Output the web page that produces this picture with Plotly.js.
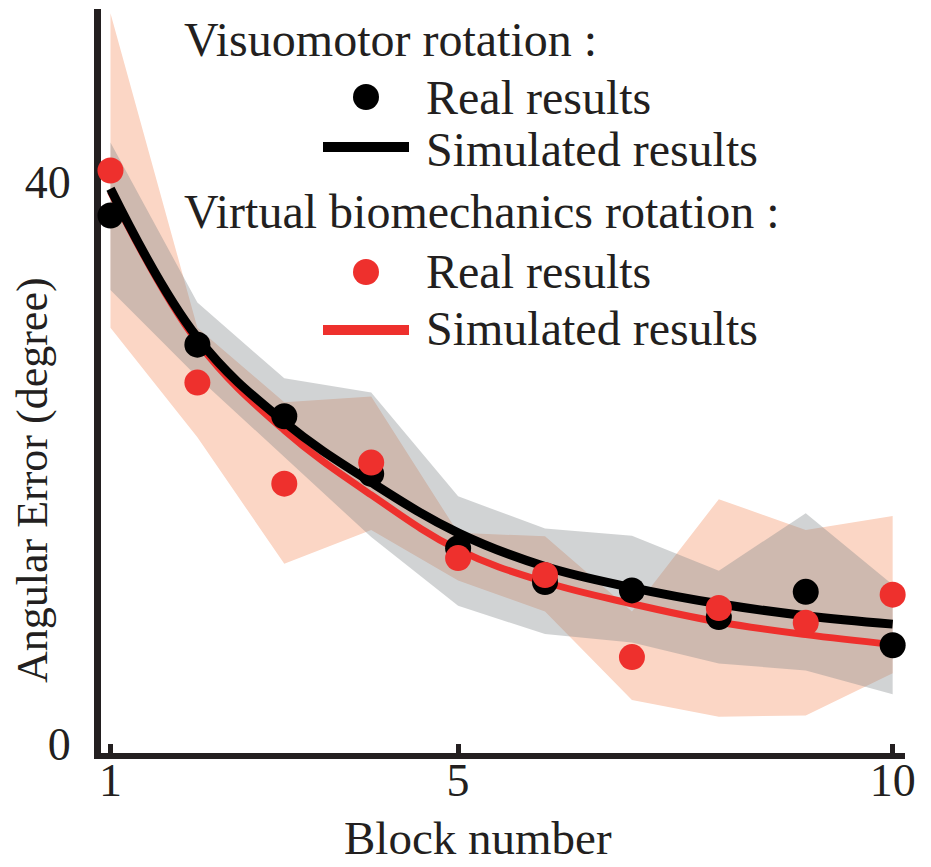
<!DOCTYPE html>
<html>
<head>
<meta charset="utf-8">
<script src="https://cdn.plot.ly/plotly-3.0.1.min.js"></script>
<style>
  html, body { margin: 0; padding: 0; background: #fff; }
  #chart { width: 931px; height: 867px; }
</style>
</head>
<body>
<div id="chart"></div>
<script>
// block numbers on the x axis
const blocks = [1, 2, 3, 4, 5, 6, 7, 8, 9, 10];

// visuomotor rotation (black / grey)
const visReal = [37.6, 28.4, 23.3, 19.2, 13.9, 11.5, 10.9, 9.0, 10.8, 7.0];
const visSim = [39.5, 28.9, 22.9, 18.6, 15.0, 12.6, 11.1, 9.95, 9.1, 8.5];
const visUpper = [42.8, 31.4, 26.0, 25.0, 17.6, 15.3, 14.8, 12.3, 16.4, 11.3];
const visLower = [32.3, 26.1, 20.4, 14.7, 9.8, 7.8, 7.2, 5.7, 5.2, 3.5];

// virtual biomechanics rotation (red / salmon)
const bioReal = [40.8, 25.7, 18.5, 20.0, 13.2, 12.0, 6.15, 9.65, 8.6, 10.6];
const bioSim = [39.3, 28.6, 22.3, 17.7, 13.8, 11.5, 9.95, 8.65, 7.75, 7.05];
const bioUpper = [52.0, 29.6, 24.3, 24.7, 15.0, 14.75, 9.4, 17.4, 15.2, 16.2];
const bioLower = [29.6, 21.8, 12.8, 15.2, 11.6, 9.4, 3.1, 1.9, 2.0, 5.0];

const xTicks = [1, 5, 10];
const yTicks = [0, 40];

const INK = '#231F20';
const RED = '#EE302D';
const FONT = 'Liberation Serif, Times New Roman, serif';

// page geometry, used to place the hand-made legend
const W = 931, H = 867, M = {l: 101, r: 26, t: 9, b: 114};
const pw = W - M.l - M.r, ph = H - M.t - M.b;
const px = (X) => (X - M.l) / pw;
const py = (Y) => (H - M.b - Y) / ph;

// closed polygon: upper edge left->right, lower edge right->left
function band(upper, lower) {
    return {
        x: blocks.concat(blocks.slice().reverse()),
        y: upper.concat(lower.slice().reverse())
    };
}

const bioBand = band(bioUpper, bioLower);
const visBand = band(visUpper, visLower);

const traces = [
    {
        x: bioBand.x, y: bioBand.y, type: 'scatter', mode: 'lines',
        fill: 'toself', fillcolor: 'rgb(251,214,197)',
        line: {width: 0, color: 'rgba(0,0,0,0)'}, hoverinfo: 'skip'
    },
    {
        x: visBand.x, y: visBand.y, type: 'scatter', mode: 'lines',
        fill: 'toself', fillcolor: 'rgba(127,133,136,0.36)',
        line: {width: 0, color: 'rgba(0,0,0,0)'}, hoverinfo: 'skip'
    },
    {
        x: blocks, y: bioSim, type: 'scatter', mode: 'lines',
        line: {color: RED, width: 7, shape: 'spline', smoothing: 1.1}
    },
    {
        x: blocks, y: visSim, type: 'scatter', mode: 'lines',
        line: {color: '#000', width: 9, shape: 'spline', smoothing: 1.1}
    },
    {
        x: blocks, y: visReal, type: 'scatter', mode: 'markers',
        marker: {color: '#000', size: 26}, cliponaxis: false
    },
    {
        x: blocks, y: bioReal, type: 'scatter', mode: 'markers',
        marker: {color: RED, size: 26}, cliponaxis: false
    }
];

// legend drawn by hand, like the original figure
function label(text, X, Y, anchor, size, yanchor) {
    return {
        text: text, xref: 'paper', yref: 'paper', x: px(X), y: py(Y),
        xanchor: anchor || 'left', yanchor: yanchor || 'middle', showarrow: false,
        font: {family: FONT, size: size || 48, color: INK}
    };
}

const annotations = [
    label('Visuomotor rotation :', 182, 40),
    label('Real results', 424, 97),
    label('Simulated results', 424, 149),
    label('Virtual biomechanics rotation :', 182, 211),
    label('Real results', 424, 271),
    label('Simulated results', 424, 329),
    label('Block number', 478, 866, 'center', 47, 'bottom'),
    {
        text: 'Angular Error (degree)', xref: 'paper', yref: 'paper',
        x: px(32), y: py(480), xanchor: 'center', yanchor: 'middle',
        textangle: -90, showarrow: false,
        font: {family: FONT, size: 44, color: INK}
    }
];

function dot(X, Y, color) {
    return {
        type: 'circle', xref: 'paper', yref: 'paper',
        xsizemode: 'pixel', ysizemode: 'pixel',
        xanchor: px(X), yanchor: py(Y), x0: -13, x1: 13, y0: -13, y1: 13,
        fillcolor: color, line: {width: 0}
    };
}
function dash(Y, color) {
    return {
        type: 'line', xref: 'paper', yref: 'paper',
        x0: px(323), x1: px(409), y0: py(Y), y1: py(Y),
        line: {color: color, width: 10}
    };
}

const shapes = [
    dot(366, 97, '#000'),
    dash(147, '#000'),
    dot(366, 272, RED),
    dash(330, RED)
];

const layout = {
    width: W, height: H,
    margin: M,
    paper_bgcolor: '#fff', plot_bgcolor: '#fff',
    showlegend: false,
    font: {family: FONT, size: 46, color: INK},
    xaxis: {
        range: [0.891, 10.142], tickvals: xTicks, ticktext: xTicks.map(String),
        showgrid: false, zeroline: false, showline: true,
        linecolor: INK, linewidth: 6, ticks: 'inside', ticklen: 9,
        tickwidth: 5, tickcolor: INK, ticklabelstandoff: -18,
        layer: 'below traces', tickfont: {family: FONT, size: 46, color: INK}
    },
    yaxis: {
        range: [-0.677, 52.3], tickvals: yTicks, ticktext: yTicks.map(String),
        showgrid: false, zeroline: false, showline: true,
        linecolor: INK, linewidth: 7, ticks: '', ticklabelstandoff: 14,
        layer: 'below traces', tickfont: {family: FONT, size: 46, color: INK}
    },
    annotations: annotations,
    shapes: shapes
};

Plotly.newPlot('chart', traces, layout, {staticPlot: true, displayModeBar: false});
</script>
</body>
</html>
